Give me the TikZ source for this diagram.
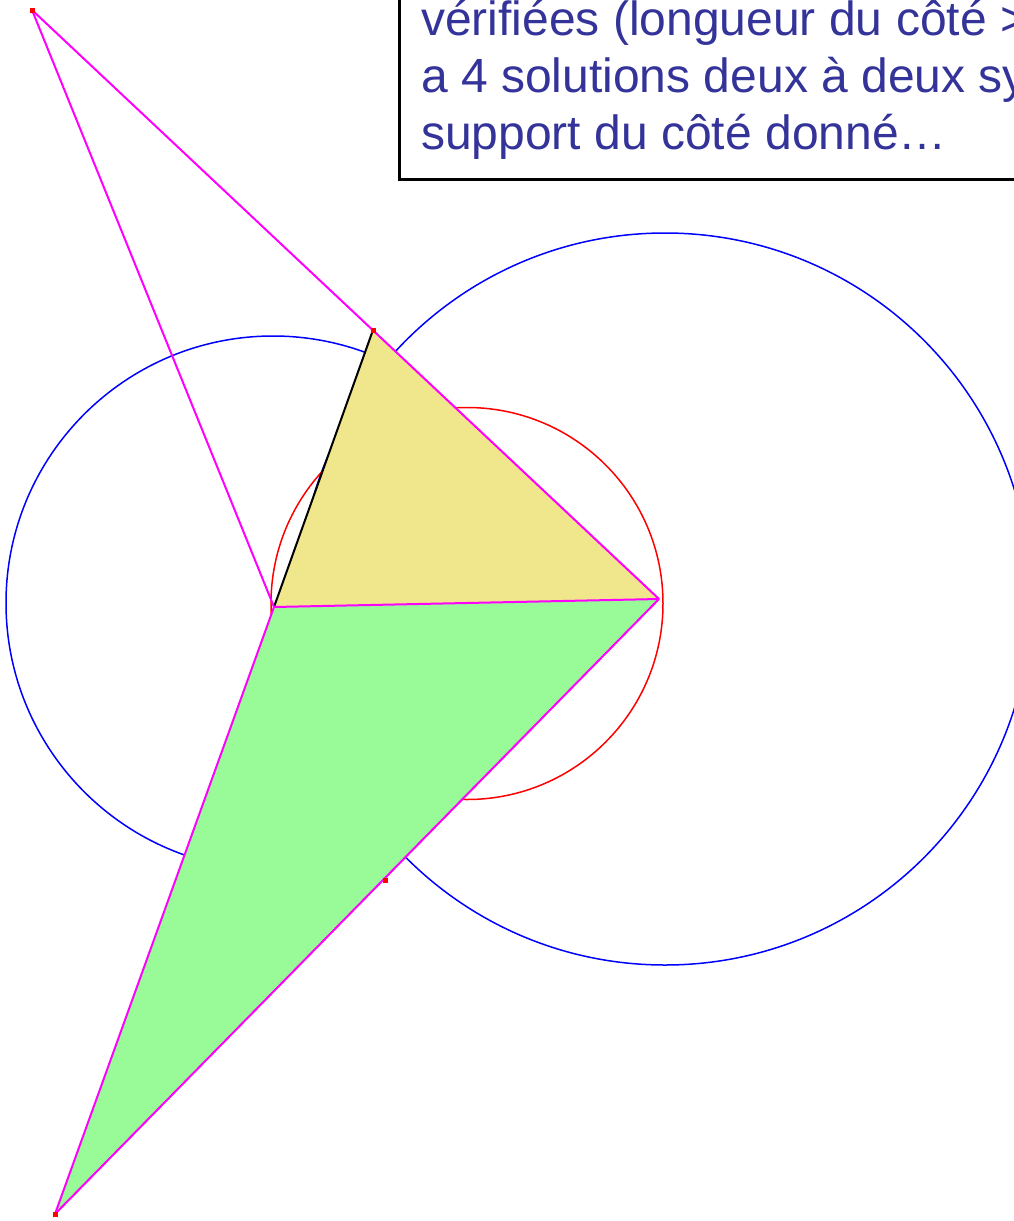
\documentclass[tikz,border=0pt]{standalone}
\usepackage{fontspec}
\setmainfont{Liberation Sans}
\definecolor{txtblue}{RGB}{51,51,153}
\definecolor{khakifill}{RGB}{240,230,140}
\definecolor{greenfill}{RGB}{152,251,152}
\definecolor{magc}{RGB}{255,0,255}
\definecolor{bluecol}{RGB}{0,0,255}
\definecolor{redcol}{RGB}{255,0,0}
\tikzset{
  bluec/.style={draw=bluecol, line width=1.5pt},
  redc/.style={draw=redcol, line width=1.5pt},
  magline/.style={draw=magc, line width=2pt},
  blackline/.style={draw=black, line width=2pt},
  marker/.style={fill=redcol, minimum size=5pt, inner sep=0pt, rectangle},
  boxtext/.style={anchor=base west, inner sep=0pt, text=txtblue, font=\fontsize{48}{57}\selectfont}
}
\begin{document}
\begin{tikzpicture}[x=1pt,y=-1pt]
\useasboundingbox (0,0) rectangle (1014,1221);
\clip (0,0) rectangle (1014,1221);
\coordinate (P) at (32,10);
\coordinate (A) at (373,330);
\coordinate (B) at (274,607);
\coordinate (C) at (659,599);
\coordinate (D) at (385,880);
\coordinate (E) at (55,1214);
\coordinate (O1) at (273,603);
\coordinate (O2) at (665,599);
\coordinate (O3) at (467,603.5);
% circles
\draw[bluec] (O1) circle (267);
\draw[bluec] (O2) circle (366);
\draw[redc] (O3) circle (196);
% filled triangles
\fill[khakifill] (A) -- (B) -- (C) -- cycle;
\fill[greenfill] (B) -- (C) -- (E) -- cycle;
% sides
\draw[blackline] (B) -- (A);
\draw[magline] (P) -- (C);
\draw[magline] (P) -- (B);
\draw[magline] (B) -- (C);
\draw[magline] (C) -- (E);
\draw[magline] (B) -- (E);
% markers
\node[marker] (mP) at (P) {};
\node[marker] (mA) at (A) {};
\node[marker] (mD) at (D) {};
\node[marker] (mE) at (E) {};
% text box
\node (box) [draw=black, line width=3pt, fill=white, anchor=south west, inner sep=0pt,
  minimum width=660pt, minimum height=230pt] at (398,181) {};
\node[boxtext] (t1) at (421,35) {vérifiées (longueur du côté >};
\node[boxtext] (t2) at (421,92) {a 4 solutions deux à deux sy};
\node[boxtext] (t3) at (421,149) {support du côté donné…};
\end{tikzpicture}
\end{document}
